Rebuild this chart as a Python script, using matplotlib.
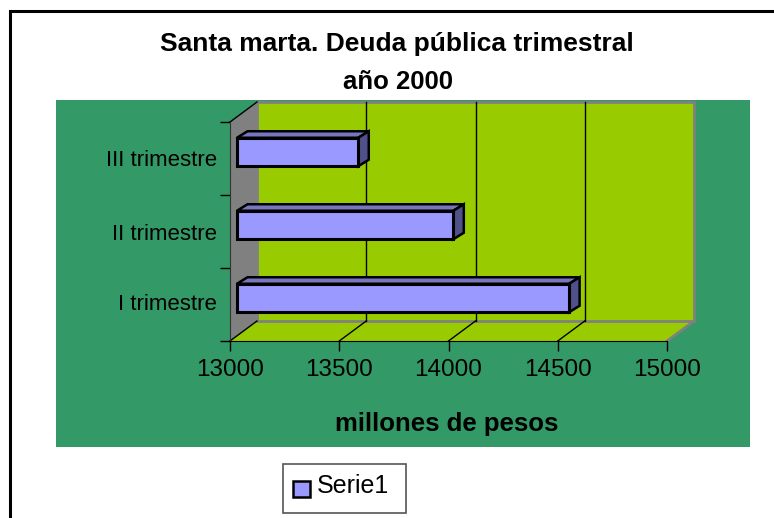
import matplotlib
matplotlib.use("Agg")
import matplotlib.pyplot as plt
from matplotlib.patches import Polygon, Rectangle
from matplotlib.lines import Line2D

categories = ["I trimestre", "II trimestre", "III trimestre"]
values = [14520, 13990, 13555]
xticks = [13000, 13500, 14000, 14500, 15000]
title_lines = "Santa marta. Deuda pública trimestral\naño 2000"
xlabel = "millones de pesos"
legend_label = "Serie1"

W, H = 774, 518
GREEN, WALL, GRAY = "#339966", "#99CC00", "#808080"
BAR, BAR_TOP, BAR_SIDE = "#9999FF", "#7777BF", "#50508A"
plt.rcParams["font.family"] = ["Liberation Sans", "DejaVu Sans"]

fig = plt.figure(figsize=(W / 100, H / 100), dpi=100, facecolor="white")
bg = fig.add_axes([0, 0, 1, 1])
bg.set_xlim(0, W); bg.set_ylim(H, 0); bg.axis("off")
# outer frame (cut by the image on the right and bottom)
bg.plot([10, 10, W + 5], [H + 5, 10.5, 10.5], color="black", lw=2.2, clip_on=True, solid_joinstyle="miter")
bg.add_patch(Rectangle((56, 100), 694, 347, fc=GREEN, ec="none"))
bg.text(397, 44, title_lines.split("\n")[0], ha="center", va="center", fontsize=19, fontweight="bold")
bg.text(398, 82, title_lines.split("\n")[1], ha="center", va="center", fontsize=18.5, fontweight="bold")
bg.text(447, 424, xlabel, ha="center", va="center", fontsize=18.5, fontweight="bold")

# legend
bg.add_patch(Rectangle((283, 464), 123, 49, fc="white", ec="#555555", lw=1.2))
bg.add_patch(Rectangle((292.5, 481), 17, 15.5, fc=BAR, ec="black", lw=1.8))
bg.text(317, 486, legend_label, ha="left", va="center", fontsize=18)

# plot area: front plane 230..667 px horizontally, 122..341 px vertically
L, R, T, B = 230, 667, 122, 341
ax = fig.add_axes([L / W, 1 - B / H, (R - L) / W, (B - T) / H], facecolor="none")
ax.set_xlim(13000, 15000)
ax.set_ylim(-0.5, 2.5)
sx = 2000 / (R - L)
sy = 3 / (B - T)
dx, dy = 27 * sx, 20 * sy      # depth of the box in data units
x0, x1, y0, y1 = 13000, 15000, -0.5, 2.5

# walls
ax.add_patch(Polygon([(x0, y0), (x1, y0), (x1 + dx, y0 + dy), (x0 + dx, y0 + dy)],
                     fc=WALL, ec="none", clip_on=False, zorder=1))
ax.add_patch(Polygon([(x0 + dx, y0 + dy), (x1 + dx, y0 + dy), (x1 + dx, y1 + dy), (x0 + dx, y1 + dy)],
                     fc=WALL, ec=GRAY, lw=2, clip_on=False, zorder=1.1))
ax.add_line(Line2D([x1, x1 + dx], [y0, y0 + dy], color=GRAY, lw=2, clip_on=False, zorder=1.5))
ax.add_patch(Polygon([(x0, y0), (x0 + dx, y0 + dy), (x0 + dx, y1 + dy), (x0, y1)],
                     fc=GRAY, ec="none", clip_on=False, zorder=1.2))
ax.add_line(Line2D([x0, x0 + dx], [y1, y1 + dy], color="black", lw=1, clip_on=False, zorder=1.5))
ax.add_line(Line2D([x0, x0 + dx], [y0, y0 + dy], color="black", lw=1, clip_on=False, zorder=1.5))

# gridlines
for t in xticks[1:-1]:
    ax.add_line(Line2D([t + dx, t + dx], [y0 + dy, y1 + dy], color="black", lw=1, clip_on=False, zorder=1.6))
    ax.add_line(Line2D([t, t + dx], [y0, y0 + dy], color="black", lw=1, clip_on=False, zorder=1.6))

# bars
bx, by = 7 * sx, 6.5 * sy     # offset of the bar's front face inside the box
ox, oy = 10.5 * sx, 6.5 * sy  # depth of the bar
h = 28.5 * sy
for i, v in enumerate(values):
    yc = i + by
    ax.barh(yc, v - x0, left=x0 + bx, height=h, color=BAR, edgecolor="black", lw=2.2,
            clip_on=False, zorder=4)
    xe = v + bx
    ax.add_patch(Polygon([(x0 + bx, yc + h / 2), (xe, yc + h / 2), (xe + ox, yc + h / 2 + oy), (x0 + bx + ox, yc + h / 2 + oy)],
                         fc=BAR_TOP, ec="black", lw=1.8, clip_on=False, zorder=3.5))
    ax.add_patch(Polygon([(xe, yc - h / 2), (xe + ox, yc - h / 2 + oy), (xe + ox, yc + h / 2 + oy), (xe, yc + h / 2)],
                         fc=BAR_SIDE, ec="black", lw=1.8, clip_on=False, zorder=3.5))

for s in ["top", "right"]:
    ax.spines[s].set_visible(False)
ax.spines["left"].set_zorder(2); ax.spines["bottom"].set_zorder(2)
ax.spines["left"].set_color("#333333")
ax.set_xticks(xticks)
ax.set_xticklabels([str(t) for t in xticks], fontsize=17.5)
ax.set_yticks([-0.5, 0.5, 1.5, 2.5])
ax.set_yticklabels([])
ax.set_yticks([0.03, 1, 2], minor=True)
ax.set_yticklabels(categories, minor=True, fontsize=16)
ax.tick_params(axis="y", which="minor", length=0, pad=9.5)
ax.tick_params(axis="y", which="major", length=7, width=1)
ax.tick_params(axis="x", length=7, width=1, pad=6)
fig.savefig("out.png", dpi=100)
